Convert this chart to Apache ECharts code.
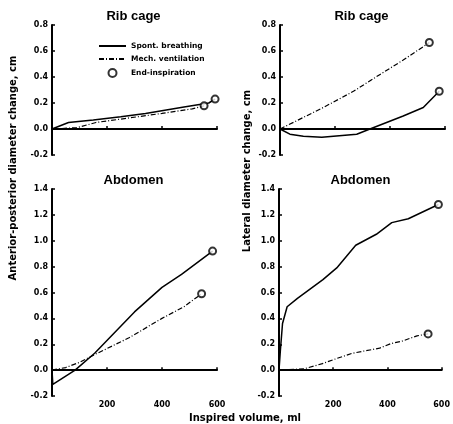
<!DOCTYPE html>
<html>
<head>
<meta charset="utf-8">
<script src="https://cdn.jsdelivr.net/npm/echarts@6/dist/echarts.min.js"></script>
<style>
  html, body { margin: 0; padding: 0; background: #fff; }
  #chart { width: 453px; height: 424px; }
</style>
</head>
<body>
<div id="chart"></div>
<script>
// Inspired volume (ml) and diameter change (cm)
// rib cage, anterior-posterior
const ribApSpontVol = [0, 60, 150, 250, 340, 480, 570, 593];
const ribApSpont = [0, 0.05, 0.07, 0.095, 0.12, 0.17, 0.2, 0.23];
const ribApMechVol = [0, 90, 160, 280, 400, 510, 553];
const ribApMech = [0, 0.01, 0.05, 0.085, 0.12, 0.155, 0.178];

// rib cage, lateral
const ribLatSpontVol = [0, 36, 85, 152, 279, 327, 448, 521, 579];
const ribLatSpont = [0, -0.04, -0.056, -0.063, -0.04, 0, 0.1, 0.165, 0.29];
const ribLatMechVol = [0, 85, 157, 267, 364, 448, 543];
const ribLatMech = [0, 0.089, 0.165, 0.29, 0.42, 0.53, 0.665];

// abdomen, anterior-posterior
const abdApSpontVol = [0, 3, 84, 155, 300, 400, 471, 584];
const abdApSpont = [0, -0.11, 0, 0.13, 0.45, 0.64, 0.74, 0.92];
const abdApMechVol = [0, 50, 100, 155, 280, 400, 480, 544];
const abdApMech = [0, 0.02, 0.06, 0.12, 0.25, 0.4, 0.49, 0.59];

// abdomen, lateral
const abdLatSpontVol = [0, 5, 13, 30, 68, 162, 213, 283, 359, 416, 477, 588];
const abdLatSpont = [0, 0.15, 0.36, 0.49, 0.555, 0.7, 0.79, 0.965, 1.05, 1.14, 1.17, 1.28];
const abdLatMechVol = [0, 92, 160, 213, 270, 371, 413, 456, 509, 550];
const abdLatMech = [0, 0.01, 0.05, 0.09, 0.13, 0.17, 0.205, 0.225, 0.265, 0.28];

const panelTitles = ['Rib cage', 'Rib cage', 'Abdomen', 'Abdomen'];
const xTicks = [0, 200, 400, 600];
const yMaxTop = 0.8;
const yMaxBottom = 1.4;

const FONT = 'DejaVu Sans';

const panels = [
  { spont: [ribApSpontVol, ribApSpont], mech: [ribApMechVol, ribApMech] },
  { spont: [ribLatSpontVol, ribLatSpont], mech: [ribLatMechVol, ribLatMech] },
  { spont: [abdApSpontVol, abdApSpont], mech: [abdApMechVol, abdApMech] },
  { spont: [abdLatSpontVol, abdLatSpont], mech: [abdLatMechVol, abdLatMech] },
];

const grids = [
  { left: 52, top: 25, width: 165, height: 130 },
  { left: 280, top: 25, width: 165, height: 130 },
  { left: 52, top: 189, width: 165, height: 207 },
  { left: 279, top: 189, width: 165, height: 207 },
];

const zip = (xs, ys) => xs.map((x, i) => [x, ys[i]]);
const last = (xs, ys) => [xs[xs.length - 1], ys[ys.length - 1]];

const series = [];
panels.forEach((p, i) => {
  series.push({
    name: 'Spont. breathing',
    type: 'line',
    xAxisIndex: i,
    yAxisIndex: i,
    symbol: 'none',
    data: zip(p.spont[0], p.spont[1]),
    lineStyle: { color: '#000', width: 1.5 },
    itemStyle: { color: '#000' },
    z: 3,
  });
  series.push({
    name: 'Mech. ventilation',
    type: 'line',
    xAxisIndex: i,
    yAxisIndex: i,
    symbol: 'none',
    data: zip(p.mech[0], p.mech[1]),
    lineStyle: { color: '#000', width: 1.2, type: [5, 2, 1, 2] },
    itemStyle: { color: '#000' },
    z: 3,
  });
  series.push({
    name: 'End-inspiration',
    type: 'scatter',
    xAxisIndex: i,
    yAxisIndex: i,
    symbol: 'emptyCircle',
    symbolSize: 7,
    data: [last(p.spont[0], p.spont[1]), last(p.mech[0], p.mech[1])],
    itemStyle: { color: '#000', borderWidth: 1.6 },
    z: 4,
  });
});

const myChart = echarts.init(document.getElementById('chart'));

const option = {
  backgroundColor: '#fff',
  animation: false,
  textStyle: { fontFamily: FONT, color: '#000' },
  title: panelTitles.map((t, i) => ({
    text: t,
    left: grids[i].left + grids[i].width / 2 - 6,
    top: i < 2 ? 5 : 169,
    textAlign: 'center',
    textStyle: { fontFamily: 'Liberation Sans', fontSize: 13, fontWeight: 'bold', color: '#000' },
  })),
  legend: {
    orient: 'vertical',
    left: 93,
    top: 37,
    itemWidth: 27,
    itemHeight: 8,
    itemGap: 5,
    selectedMode: false,
    data: [
      { name: 'Spont. breathing', itemStyle: { opacity: 0 } },
      { name: 'Mech. ventilation', itemStyle: { opacity: 0 } },
      { name: 'End-inspiration' },
    ],
    textStyle: { fontFamily: FONT, fontSize: 7.5, fontWeight: 'bold', color: '#000' },
  },
  grid: grids,
  xAxis: grids.map((g, i) => ({
    gridIndex: i,
    type: 'value',
    min: xTicks[0],
    max: xTicks[xTicks.length - 1],
    interval: xTicks[1] - xTicks[0],
    axisLine: { onZero: true, lineStyle: { color: '#000', width: 2 } },
    axisTick: { inside: true, length: 3, lineStyle: { color: '#000', width: 1.5 } },
    axisLabel: {
      show: i >= 2,
      showMinLabel: false,
      margin: 5,
      fontFamily: FONT,
      fontSize: 8,
      fontWeight: 'bold',
      color: '#000',
    },
    splitLine: { show: false },
  })),
  yAxis: grids.map((g, i) => ({
    gridIndex: i,
    type: 'value',
    min: -0.2,
    max: i < 2 ? yMaxTop : yMaxBottom,
    interval: 0.2,
    axisLine: { show: true, onZero: false, lineStyle: { color: '#000', width: 2 } },
    axisTick: { show: true, inside: true, length: 3, lineStyle: { color: '#000', width: 1.5 } },
    axisLabel: {
      margin: 4,
      fontFamily: FONT,
      fontSize: 8,
      fontWeight: 'bold',
      color: '#000',
      formatter: (v) => v.toFixed(1),
    },
    splitLine: { show: false },
  })),
  graphic: [
    {
      type: 'text',
      x: 13,
      y: 168,
      rotation: Math.PI / 2,
      style: {
        text: 'Anterior-posterior diameter change, cm',
        font: 'bold 10px "DejaVu Sans"',
        fill: '#000',
        textAlign: 'center',
        textVerticalAlign: 'middle',
      },
    },
    {
      type: 'text',
      x: 247,
      y: 171,
      rotation: Math.PI / 2,
      style: {
        text: 'Lateral diameter change, cm',
        font: 'bold 10px "DejaVu Sans"',
        fill: '#000',
        textAlign: 'center',
        textVerticalAlign: 'middle',
      },
    },
    {
      type: 'text',
      x: 245,
      y: 418,
      style: {
        text: 'Inspired volume, ml',
        font: 'bold 10px "DejaVu Sans"',
        fill: '#000',
        textAlign: 'center',
        textVerticalAlign: 'middle',
      },
    },
  ],
  series: series,
};

myChart.setOption(option);
window.addEventListener('resize', () => myChart.resize());
</script>
</body>
</html>
